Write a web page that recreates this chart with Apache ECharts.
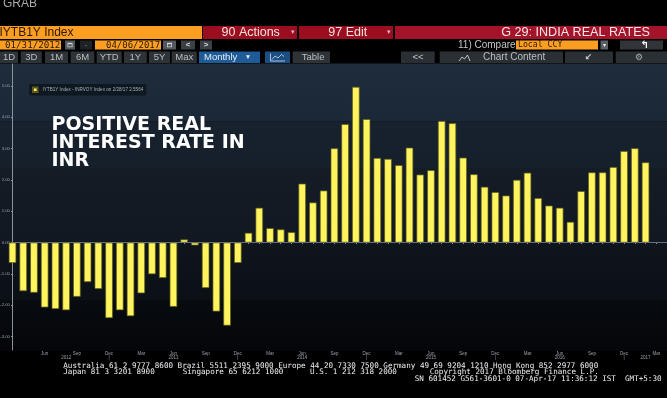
<!DOCTYPE html>
<html><head><meta charset="utf-8">
<script src="https://cdn.jsdelivr.net/npm/echarts@6/dist/echarts.min.js"></script>
<style>html,body{margin:0;padding:0;background:#000;}#c{width:667px;height:398px;}</style>
</head><body><div id="c"></div>
<script>
// ---- data ----
const categories = [
  'Mar 2012','Apr 2012','May 2012','Jun 2012','Jul 2012','Aug 2012','Sep 2012','Oct 2012','Nov 2012','Dec 2012',
  'Jan 2013','Feb 2013','Mar 2013','Apr 2013','May 2013','Jun 2013','Jul 2013','Aug 2013','Sep 2013','Oct 2013','Nov 2013','Dec 2013',
  'Jan 2014','Feb 2014','Mar 2014','Apr 2014','May 2014','Jun 2014','Jul 2014','Aug 2014','Sep 2014','Oct 2014','Nov 2014','Dec 2014',
  'Jan 2015','Feb 2015','Mar 2015','Apr 2015','May 2015','Jun 2015','Jul 2015','Aug 2015','Sep 2015','Oct 2015','Nov 2015','Dec 2015',
  'Jan 2016','Feb 2016','Mar 2016','Apr 2016','May 2016','Jun 2016','Jul 2016','Aug 2016','Sep 2016','Oct 2016','Nov 2016','Dec 2016',
  'Jan 2017','Feb 2017','Mar 2017','Apr 2017'
];
const realRate = [
  -0.65,-1.55,-1.60,-2.07,-2.12,-2.16,-1.73,-1.26,-1.48,-2.41,
  -2.16,-2.35,-1.62,-1.01,-1.13,-2.05,0.10,-0.09,-1.45,-2.20,-2.65,-0.65,
  0.31,1.11,0.46,0.42,0.33,1.88,1.28,1.66,3.01,3.78,4.97,3.94,
  2.70,2.67,2.47,3.03,2.17,2.31,3.88,3.81,2.71,2.18,1.78,1.61,
  1.50,2.00,2.23,1.42,1.18,1.11,0.66,1.64,2.24,2.24,2.41,2.92,
  3.01,2.56
];
const yTicks = [-3,-2,-1,0,1,2,3,4,5];
const monthTickNames = ['Mar','Jun','Sep','Dec'];
const yearLabels = {'Aug 2012':'2012','Jun 2013':'2013','Jun 2014':'2014','Jun 2015':'2015','Jun 2016':'2016','Feb 2017':'2017'};
const legendName = 'IYTB1Y Index - INRVOY Index on 2/28/17 2.5564';
const lastValueLabel = '2.5564';
const annotation = ['POSITIVE REAL','INTEREST RATE IN','INR'];
const footerLines = [
  ['Australia 61 2 9777 8600 Brazil 5511 2395 9000 Europe 44 20 7330 7500 Germany 49 69 9204 1210 Hong Kong 852 2977 6000'],
  ['Japan 81 3 3201 8900','Singapore 65 6212 1000','U.S. 1 212 318 2000','Copyright 2017 Bloomberg Finance L.P.'],
  ['SN 601452 G561-3601-0 07-Apr-17 11:36:12 IST  GMT+5:30']
];

// ---- helpers for decoration ----
const SANS = '"Liberation Sans", Arial, sans-serif';
const MONO = '"DejaVu Sans Mono", monospace';
function R(x,y,w,h,fill,z){return {type:'rect',silent:true,z:(z===undefined?50:z),shape:{x:x,y:y,width:w,height:h},style:{fill:fill}};}
function RG(x,y,w,h,c1,c2){return {type:'rect',silent:true,z:-10,shape:{x:x,y:y,width:w,height:h},
  style:{fill:new echarts.graphic.LinearGradient(0,0,0,1,[{offset:0,color:c1},{offset:1,color:c2}])}};}
function T(x,y,text,font,fill,align,va,extra){
  const st={x:x,y:y,text:text,font:font,fill:fill,align:align||'left',textAlign:align||'left',
    verticalAlign:va||'middle',textVerticalAlign:va||'middle'};
  if(extra){for(const k in extra) st[k]=extra[k];}
  return {type:'text',silent:true,z:60,style:st};
}
function P(points,stroke,w){return {type:'polyline',silent:true,z:61,shape:{points:points},style:{stroke:stroke,lineWidth:w||1,fill:null}};}

const g = [];
// chart panel background bands
g.push(RG(0,63.5,667,58,'#1e2c3c','#1b2838'));
g.push(RG(0,121.5,667,46.5,'#18222f','#16202b'));
g.push(RG(0,168,667,75,'#141c26','#111821'));
g.push(RG(0,243,667,57,'#0f151c','#0b1016'));
g.push(RG(0,300,667,51,'#080b10','#040609'));

// top-left label
g.push(T(3,3.2,'GRAB','12px '+SANS,'#a8a8a8'));

// header row 1
const ORANGE='#fb9e22', DARK='#2a1804';
g.push(R(0,26,202,13,ORANGE));
g.push(T(-0.5,33,'IYTB1Y Index','12px '+SANS,DARK));
g.push(R(203,26,94,13,'#9b0e1f'));
g.push(T(221.5,33,'90 Actions','12.5px '+SANS,'#f3e2e2'));
g.push(T(293,32.5,'▾','7px '+SANS,'#d9b9b9','center'));
g.push(R(299,26,94,13,'#9b0e1f'));
g.push(T(328.3,33,'97 Edit','12.5px '+SANS,'#f3e2e2'));
g.push(T(389,32.5,'▾','7px '+SANS,'#d9b9b9','center'));
g.push(R(395,26,272,13,'#a3132a'));
g.push(T(650,33,'G 29: INDIA REAL RATES','12.6px '+SANS,'#f6e8e8','right'));

// header row 2
g.push(R(0,40.5,61,9,ORANGE));
g.push(T(5,45.3,'01/31/2012','9.2px '+MONO,DARK));
g.push(R(65,40.5,10,9,'#51585f'));
g.push(R(67.5,42.8,5,4.4,'#d6d6d6',55)); g.push(R(68.2,44.2,3.6,2.3,'#51585f',56));
g.push(R(80,40.5,12,9,'#1e2226'));
g.push(T(86,45,'-','8px '+SANS,'#8d8d8d','center'));
g.push(R(95,40.5,66,9,ORANGE));
g.push(T(106,45.3,'04/06/2017','9px '+MONO,DARK));
g.push(R(163,40.5,13,9,'#51585f'));
g.push(R(167,42.8,5,4.4,'#d6d6d6',55)); g.push(R(167.7,44.2,3.6,2.3,'#51585f',56));
g.push(R(181,40.5,14,9,'#3b4046'));
g.push(T(188,45,'<','bold 8px '+SANS,'#d8d8d8','center'));
g.push(R(200,40.5,12,9,'#3b4046'));
g.push(T(206,45,'>','bold 8px '+SANS,'#d8d8d8','center'));
g.push(T(458,45.3,'11) Compare','10px '+SANS,'#c6c6c6'));
g.push(R(516,40.5,82,9,ORANGE));
g.push(T(518,45.3,'Local CCY','8.2px '+MONO,DARK));
g.push(R(600.5,40.5,7.5,9,'#5a6066'));
g.push(T(604.2,45,'▾','6px '+SANS,'#eeeeee','center'));
g.push(R(620,40.5,43,9,'#30353a'));
g.push(T(645,45,'↰','bold 10px "DejaVu Sans"','#ffffff','center'));

// header row 3
const BTN='#2e3338', BTXT='#babec2';
[[0,18,'1D'],[20.7,21,'3D'],[45,23,'1M'],[70.7,23.6,'6M'],[96.7,25,'YTD'],[124,22.7,'1Y'],[149,21,'5Y'],[171.7,25,'Max']]
  .forEach(function(b){g.push(R(b[0],51.5,b[1],11.5,BTN)); g.push(T(b[0]+b[1]/2,57.4,b[2],'9.5px '+SANS,BTXT,'center'));});
g.push(R(199,51.5,61,11.5,'#1f5b96'));
g.push(T(204,57.4,'Monthly','9.5px '+SANS,'#e6edf5'));
g.push(T(248,57.2,'▼','6.5px '+SANS,'#e6edf5','center'));
g.push(R(265,51.5,25,11.5,'#1b4e83'));
g.push(P([[270.5,53.5],[270.5,61],[285,61]],'#cfe0f0',0.8));
g.push(P([[272,59.5],[275,56],[278,58],[281.5,54.5],[284,56.5]],'#cfe0f0',0.8));
g.push(R(292.7,51.5,37.3,11.5,BTN));
g.push(T(301.7,57.4,'Table','9.5px '+SANS,BTXT));
g.push(R(401,51.5,33.7,11.5,'#2a2f34'));
g.push(T(418,57.4,'<<','9.5px '+SANS,'#c8c8c8','center'));
g.push(R(439.7,51.5,123.3,11.5,'#2a2f34'));
g.push(P([[459,61],[462,57],[464.5,59],[467.5,55],[470,61]],'#c0c4c8',1));
g.push(T(483,57.4,'Chart Content','10px '+SANS,BTXT));
g.push(R(565,51.5,48,11.5,'#2a2f34'));
g.push(T(588.5,57.4,'↙','bold 9px "DejaVu Sans"','#c8ccd0','center'));
g.push(R(615.7,51.5,51.3,11.5,'#2a2f34'));
g.push(T(639,57.4,'⚙','9px "DejaVu Sans"','#a9aeb3','center'));

// annotation
g.push(T(51.5,116,annotation.join('\n'),'bold 19px "DejaVu Sans"','#ffffff','left','top',{lineHeight:18}));

// footer
const FF='7.6px '+MONO, FC='#f0f0f0';
g.push(T(63.3,366,footerLines[0][0],FF,FC));
[63.3,182.7,310,429.7].forEach(function(x,i){g.push(T(x,372.5,footerLines[1][i],FF,FC));});
g.push(T(414.7,379,footerLines[2][0],FF,FC));

const chart = echarts.init(document.getElementById('c'), null, {renderer:'canvas'});
const AX='#8a929b', LBL='#98a1aa';
chart.setOption({
  backgroundColor:'#000',
  animation:false,
  grid:{left:12.5,right:0,top:64,bottom:48,containLabel:false,outerBoundsMode:'none'},
  legend:{show:true,left:29,top:84,icon:'rect',itemWidth:4.5,itemHeight:4.5,
    backgroundColor:'#0f1720',borderRadius:2,padding:[2.5,3,2.5,3],
    textStyle:{fontSize:4.6,color:'#a8b0b8'},data:[legendName]},
  xAxis:{type:'category',data:categories,boundaryGap:false,
    axisLine:{show:true,lineStyle:{color:AX,width:1}},
    axisTick:{show:true,interval:0,length:1.5,lineStyle:{color:AX}},
    splitLine:{show:false},
    axisLabel:{fontSize:4.5,lineHeight:3.9,color:LBL,margin:2,
      interval:function(i,v){const m=v.slice(0,3);return (i>0 && monthTickNames.indexOf(m)>=0) || (v in yearLabels);},
      formatter:function(v){const m=v.slice(0,3);const isM=monthTickNames.indexOf(m)>=0;
        if(v in yearLabels){return (isM?m:'')+'\n'+yearLabels[v];}
        if(m==='Dec') return 'Dec\n|';
        return m;}}},
  yAxis:{type:'value',min:-3.43,max:5.70,
    axisLine:{show:true,lineStyle:{color:AX,width:1}},
    axisTick:{show:true,customValues:yTicks,length:1.5,lineStyle:{color:AX}},
    splitLine:{show:false},
    axisLabel:{customValues:yTicks,formatter:function(v){return v.toFixed(2);},fontSize:4.3,color:LBL,margin:2.5}},
  graphic:{elements:g},
  series:[
    {type:'line',data:[],silent:true,z:1,
      markLine:{silent:true,symbol:'none',animation:false,label:{show:false},
        lineStyle:{color:'#5d6772',width:0.8,type:'solid'},data:[{yAxis:0}]}},
    {type:'bar',name:legendName,data:realRate,barWidth:7.5,clip:true,z:3,
      itemStyle:{color:'#fff45e',borderColor:'#5e5b1c',borderWidth:0.7},
      markLine:{silent:true,symbol:'none',animation:false,
        lineStyle:{opacity:0,width:0},
        label:{show:true,position:'start',formatter:lastValueLabel,fontSize:4.3,color:'#111',
          backgroundColor:'#f2ea4c',borderRadius:1.5,padding:[1,1,0.5,1],distance:0.5},
        data:[{yAxis:realRate[realRate.length-1]}]}}
  ]
});
</script></body></html>
